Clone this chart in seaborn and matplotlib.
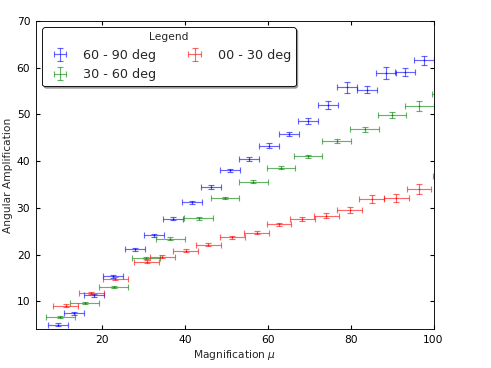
import matplotlib
matplotlib.use("Agg")
import matplotlib.pyplot as plt
import seaborn as sns
import numpy as np
import pandas as pd

# 60 - 90 deg
mag_hi = [9.35, 13.2, 18.0, 22.65, 28.0, 32.6, 37.1, 41.7, 46.2, 50.9,
          55.5, 60.3, 65.1, 69.7, 74.5, 79.1, 83.9, 88.5, 93.1, 97.7]
amp_hi = [5.0, 7.4, 11.3, 15.3, 21.1, 24.1, 27.7, 31.2, 34.5, 38.0,
          40.5, 43.3, 45.8, 48.6, 52.0, 55.8, 55.3, 58.8, 59.1, 61.6]
yerr_hi = [0.3, 0.3, 0.3, 0.3, 0.35, 0.35, 0.35, 0.35, 0.4, 0.4,
           0.45, 0.5, 0.5, 0.6, 0.9, 1.18, 0.78, 1.29, 0.86, 0.96]
xerr_hi = 2.4

# 30 - 60 deg
mag_mid = [9.95, 15.8, 22.8, 30.6, 36.5, 43.3, 49.7, 56.5, 63.2, 69.7,
           76.6, 83.4, 90.0, 96.6, 103.0]
amp_mid = [6.6, 9.6, 13.1, 19.2, 23.4, 27.8, 32.1, 35.6, 38.6, 41.0,
           44.3, 46.8, 49.9, 51.7, 54.4]
yerr_mid = [0.25, 0.25, 0.25, 0.25, 0.3, 0.3, 0.3, 0.3, 0.35, 0.35,
            0.4, 0.5, 0.7, 1.07, 1.1]
xerr_mid = 3.45

# 00 - 30 deg
mag_lo = [11.2, 17.4, 23.2, 30.8, 34.5, 40.2, 45.7, 51.4, 57.3, 62.7,
          68.3, 74.1, 79.8, 85.1, 91.0, 96.5, 102.8]
amp_lo = [9.06, 11.7, 14.8, 18.5, 19.5, 20.8, 22.1, 23.7, 24.7, 26.5,
          27.6, 28.3, 29.5, 31.9, 32.2, 34.1, 36.9]
yerr_lo = [0.25, 0.25, 0.3, 0.3, 0.3, 0.3, 0.3, 0.3, 0.35, 0.35,
           0.45, 0.5, 0.6, 0.86, 0.86, 1.07, 1.1]
xerr_lo = 3.0

sns.set_theme(style="ticks", rc={
    "xtick.direction": "in", "ytick.direction": "in",
    "xtick.top": True, "ytick.right": True,
    "xtick.major.size": 4, "ytick.major.size": 4,
    "xtick.major.pad": 6, "ytick.major.pad": 6,
    "axes.edgecolor": "black", "axes.linewidth": 1.0,
    "xtick.color": "black", "ytick.color": "black",
    "font.size": 12, "axes.labelsize": 12,
    "xtick.labelsize": 12, "ytick.labelsize": 12,
})
plt.rcParams["font.family"] = ["DejaVu Sans"]

fig = plt.figure(figsize=(491 / 64, 368 / 64), dpi=64)
ax = fig.add_axes([0.0727, 0.1052, 0.8102, 0.8378])

series = [
    ("60 - 90 deg", mag_hi, amp_hi, yerr_hi, xerr_hi, (0, 0, 1)),
    ("30 - 60 deg", mag_mid, amp_mid, yerr_mid, xerr_mid, (0, 0.5, 0)),
    ("00 - 30 deg", mag_lo, amp_lo, yerr_lo, xerr_lo, (1, 0, 0)),
]

for name, xs, ys, ye, xe, col in series:
    ax.errorbar(xs, ys, xerr=xe, yerr=ye, fmt="none", ecolor=col,
                elinewidth=1.3, capsize=3, capthick=1.3, alpha=0.6,
                label=name)
    df = pd.DataFrame({"mag": xs, "amp": ys})
    sns.scatterplot(data=df, x="mag", y="amp", ax=ax, color=col, s=4,
                    linewidth=0, alpha=0.6, legend=False)

ax.set_xlim(4, 100)
ax.set_ylim(4, 70)
ax.set_xticks([20, 40, 60, 80, 100])
ax.set_yticks([10, 20, 30, 40, 50, 60, 70])
ax.set_xlabel(r"Magnification $\mu$")
ax.set_ylabel("Angular Amplification")
ax.legend(title="Legend", loc="upper left", ncol=2, fontsize=14.4,
          title_fontsize=12, fancybox=True, shadow=True, framealpha=1,
          edgecolor="black", handlelength=2, columnspacing=2)

fig.savefig("out.png", dpi=64)
